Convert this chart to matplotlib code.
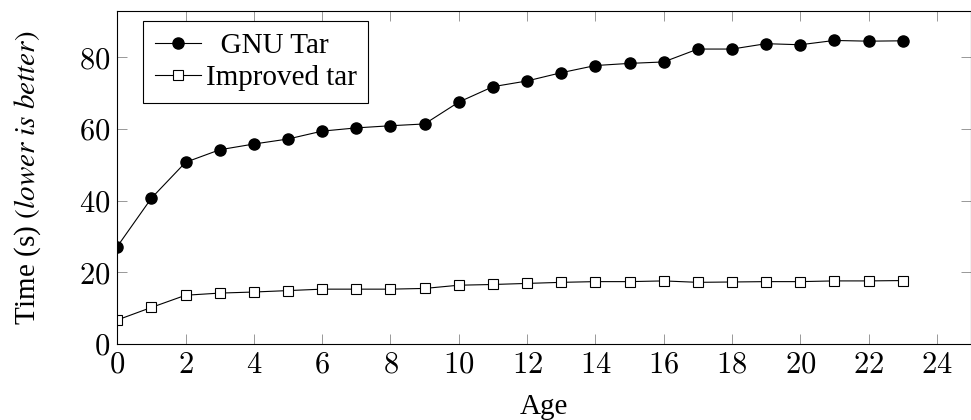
import matplotlib
matplotlib.use("Agg")
import matplotlib.pyplot as plt
from matplotlib.ticker import FuncFormatter

# Benchmark data
age = list(range(24))
gnu_tar = [27.2, 40.7, 50.7, 54.2, 55.8, 57.2, 59.4, 60.3, 60.9, 61.4, 67.5, 71.8,
           73.4, 75.7, 77.7, 78.3, 78.7, 82.3, 82.3, 83.8, 83.5, 84.7, 84.5, 84.6]
improved_tar = [6.7, 10.2, 13.6, 14.2, 14.5, 14.9, 15.3, 15.3, 15.3, 15.5, 16.4, 16.6,
                16.9, 17.2, 17.4, 17.4, 17.6, 17.2, 17.3, 17.4, 17.4, 17.6, 17.6, 17.7]
xticks = list(range(0, 25, 2))
yticks = [0, 20, 40, 60, 80]

plt.rcParams['font.family'] = ['Liberation Serif', 'DejaVu Serif']
plt.rcParams['mathtext.fontset'] = 'cm'

fig = plt.figure(figsize=(9.71, 4.2), dpi=100)
ax = fig.add_axes([0.1208, 0.181, 0.8792, 0.7935])

ax.plot(age, gnu_tar, color='black', lw=0.8, marker='o', ms=8, label='  GNU Tar')
ax.plot(age, improved_tar, color='black', lw=0.8, marker='s', ms=7.5,
        mfc='white', mec='black', mew=0.8, label='Improved tar')

ax.set_xlim(0, 25)
ax.set_ylim(0, 93)
ax.set_xticks(xticks)
ax.set_yticks(yticks)
ax.xaxis.set_major_formatter(FuncFormatter(lambda v, p: f"${v:g}$"))
ax.yaxis.set_major_formatter(FuncFormatter(lambda v, p: f"${v:g}$"))
ax.tick_params(direction='in', length=7, width=0.6, color='#888888',
               labelsize=22, top=True, right=True, pad=5)
for s in ax.spines.values():
    s.set_linewidth(0.8)

ax.set_xlabel('Age', fontsize=21, labelpad=10)
# stix is Times-like, so the italic part matches the serif label
yl = ax.set_ylabel(r'Time (s) $\mathit{(lower\ is\ better)}$', fontsize=21, labelpad=26)
yl.set_math_fontfamily('stix')

leg = ax.legend(loc='upper left', bbox_to_anchor=(0.03, 0.97), fontsize=21,
                frameon=True, fancybox=False, edgecolor='black', framealpha=1,
                handlelength=1.6, handletextpad=0.15, borderpad=0.4,
                labelspacing=0.2, borderaxespad=0)
leg.get_frame().set_linewidth(0.8)

fig.savefig('out.png', dpi=100)
